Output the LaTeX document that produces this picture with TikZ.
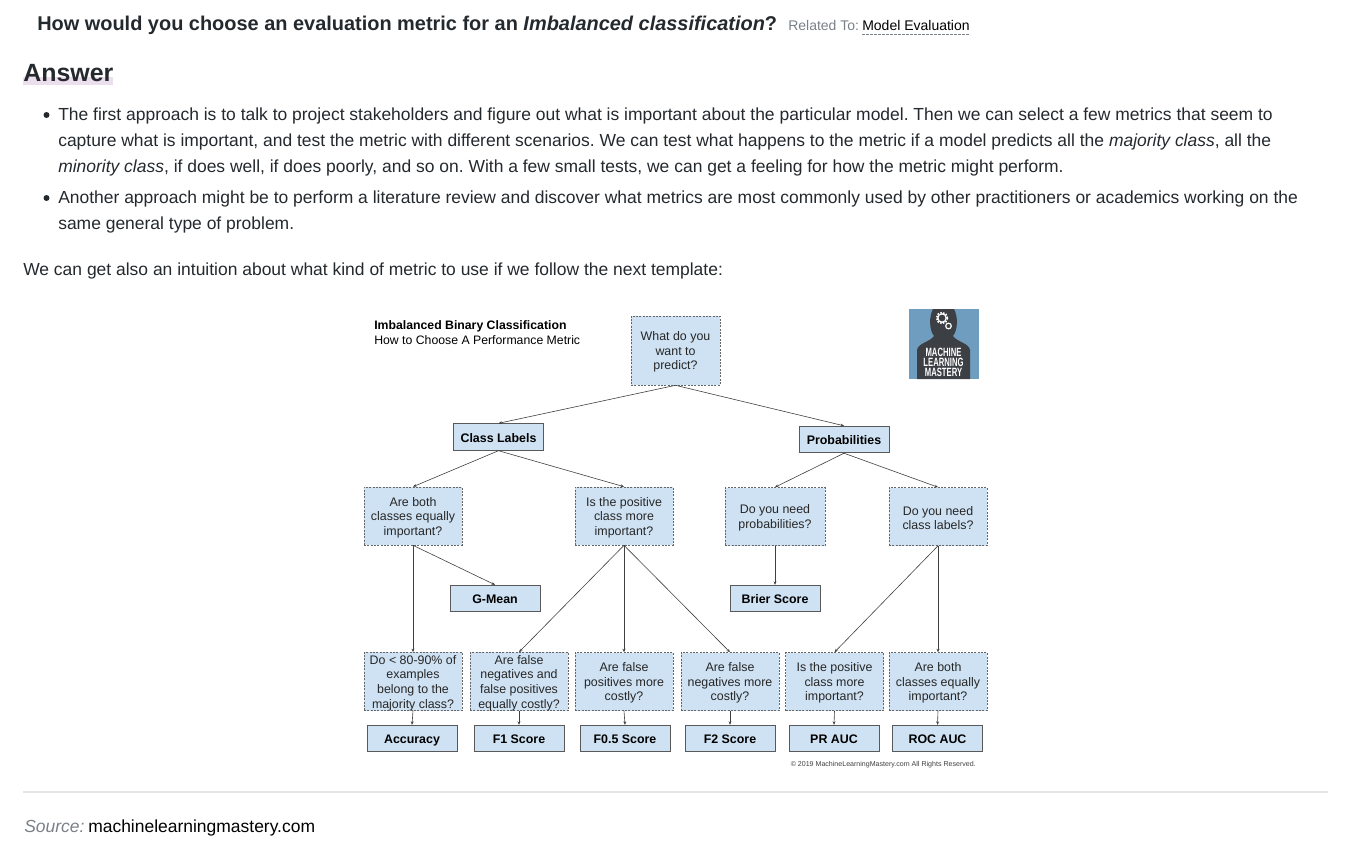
\documentclass[tikz,border=0pt]{standalone}
\usepackage{fontspec}
\setmainfont{Liberation Sans}
\usetikzlibrary{arrows.meta}
\definecolor{boxblue}{HTML}{CFE2F3}
\definecolor{inkdark}{HTML}{24292E}
\definecolor{graytext}{HTML}{7A8087}
\definecolor{markpink}{HTML}{EBDFEE}
\definecolor{logoblue}{HTML}{6F9DBF}
\definecolor{logodark}{HTML}{3C3F44}
\newcommand{\bodysize}{\frenchspacing\fontsize{13.1pt}{15pt}\selectfont}
\newcommand{\qfirst}{\rule{0pt}{9pt}}
\tikzset{
	every node/.style = {inner sep=0pt, text=inkdark},
	bodyline/.style = {anchor=base west, font=\bodysize},
	bulletdot/.style = {circle, fill=inkdark, minimum size=4.5pt},
	qbox/.style = {draw=black!60, dashed, dash pattern=on 1.5pt off 1pt, line width=.45pt, fill=boxblue, minimum width=73.5pt, minimum height=43.5pt, align=center, text=black!85, font=\fontsize{9.3pt}{10.9pt}\selectfont},
	resultbox/.style = {draw=black!65, line width=.55pt, fill=boxblue, minimum width=67.5pt, minimum height=20pt, text height=9.5pt, text depth=2pt, text=black, font=\fontsize{9.3pt}{11pt}\selectfont\bfseries},
	link/.style = {draw=black!75, line width=.45pt, -{Stealth[length=2.6pt,width=2.2pt]}},
	logotext/.style = {text=white, xscale=.64, transform shape, font=\fontsize{9pt}{9pt}\selectfont\bfseries}
}

\begin{document}
\begin{tikzpicture}[x=.75pt,y=-.75pt]
	\useasboundingbox (0,0) rectangle (1350,854);

	% heading
	\node[anchor=base west, font=\fontsize{14.95pt}{18pt}\selectfont\bfseries] (question) at (37,30) {How would you choose an evaluation metric for an \textit{Imbalanced classification}?};
	\node[anchor=base west, text=graytext, font=\fontsize{10.5pt}{12pt}\selectfont] (related) at (788,30) {Related To:};
	\node[anchor=base west, text=black, font=\fontsize{10.5pt}{12pt}\selectfont] (topic) at (862,30) {Model Evaluation};
	\coordinate (topicl) at (862,34);
	\coordinate (topicr) at (970,34);
	\draw[graytext, line width=.6pt, dash pattern=on 2pt off 1pt] (topicl) -- (topicr);

	\fill[markpink] (23,77) rectangle (113,85);
	\node[anchor=base west, font=\fontsize{18.7pt}{22pt}\selectfont\bfseries] (answer) at (23,81) {Answer};

	% text
	\node[bulletdot] (dota) at (46.5,115) {};
	\node[bodyline] (linea) at (58,120) {The first approach is to talk to project stakeholders and figure out what is important about the particular model. Then we can select a few metrics that seem to};
	\node[bodyline] (lineb) at (58,146) {capture what is important, and test the metric with different scenarios. We can test what happens to the metric if a model predicts all the \textit{majority class}, all the};
	\node[bodyline] (linec) at (58,172) {\textit{minority class}, if does well, if does poorly, and so on. With a few small tests, we can get a feeling for how the metric might perform.};
	\node[bulletdot] (dotb) at (46.5,198) {};
	\node[bodyline] (lined) at (58,203) {Another approach might be to perform a literature review and discover what metrics are most commonly used by other practitioners or academics working on the};
	\node[bodyline] (linee) at (58,229) {same general type of problem.};
	\node[bodyline] (linef) at (23,275) {We can get also an intuition about what kind of metric to use if we follow the next template:};

	% chart title
	\node[anchor=base west, text=black, font=\fontsize{9.2pt}{10pt}\selectfont\bfseries] (charttitle) at (374,329) {Imbalanced Binary Classification};
	\node[anchor=base west, text=black, font=\fontsize{9.2pt}{10pt}\selectfont] (chartsub) at (374,344) {How to Choose A Performance Metric};

	% logo
	\fill[logoblue] (909,309) rectangle (979,379);
	\fill[logodark] (917,379) -- (917,350) .. controls (918,343) and (930,342) .. (934,336) .. controls (929,330) and (929,316) .. (933,309) -- (954,309) .. controls (958,316) and (958,330) .. (953,336) .. controls (957,342) and (969,343) .. (970,350) -- (970,379) -- cycle;
	\draw[white, line width=1.2pt, densely dotted] (942,318) circle (5.5);
	\draw[white, line width=.9pt] (942,318) circle (4.2);
	\draw[white, line width=.9pt] (948.5,326) circle (2.8);
	\node[logotext] (logoa) at (943.5,352) {MACHINE};
	\node[logotext] (logob) at (943.5,362) {LEARNING};
	\node[logotext] (logoc) at (943.5,372.5) {MASTERY};

	% tree
	\node[qbox, minimum width=66.75pt, minimum height=51.75pt] (predict) at (675.5,350.5) {\qfirst What do you\\want to\\predict?};

	\node[resultbox] (labels) at (498.5,437) {Class Labels};
	\node[resultbox] (probs) at (844,439.5) {Probabilities};

	\node[qbox] (qbalanced) at (413,516) {\qfirst Are both\\classes equally\\important?};
	\node[qbox] (qpositive) at (624,516) {\qfirst Is the positive\\class more\\important?};
	\node[qbox, minimum width=75pt] (qprobs) at (775,516.5) {\qfirst Do you need\\probabilities?};
	\node[qbox] (qlabels) at (938,516.5) {\qfirst Do you need\\class labels?};

	\node[resultbox] (gmean) at (495,598.5) {G-Mean};
	\node[resultbox] (brier) at (775,598.5) {Brier Score};

	\node[qbox] (qmajority) at (413,681.5) {\qfirst Do < 80-90\% of\\examples\\belong to the\\majority class?};
	\node[qbox] (qequal) at (519,681.5) {\qfirst Are false\\negatives and\\false positives\\equally costly?};
	\node[qbox] (qfp) at (624,681.5) {\qfirst Are false\\positives more\\costly?};
	\node[qbox] (qfn) at (730,681.5) {\qfirst Are false\\negatives more\\costly?};
	\node[qbox] (qpr) at (834.5,681.5) {\qfirst Is the positive\\class more\\important?};
	\node[qbox] (qroc) at (938,681.5) {\qfirst Are both\\classes equally\\important?};

	\node[resultbox] (accuracy) at (412,738.5) {Accuracy};
	\node[resultbox] (fone) at (519,738.5) {F1 Score};
	\node[resultbox] (fhalf) at (625,738.5) {F0.5 Score};
	\node[resultbox] (ftwo) at (730,738.5) {F2 Score};
	\node[resultbox] (prauc) at (834,738.5) {PR AUC};
	\node[resultbox] (rocauc) at (937.5,738.5) {ROC AUC};

	\node[anchor=base east, text=black!75, font=\fontsize{5.3pt}{6pt}\selectfont] (rights) at (976,766) {© 2019 MachineLearningMastery.com All Rights Reserved.};

	\draw[link] (predict.south) -- (labels.north);
	\draw[link] (predict.south) -- (probs.north);
	\draw[link] (labels.south) -- (qbalanced.north);
	\draw[link] (labels.south) -- (qpositive.north);
	\draw[link] (probs.south) -- (qprobs.north);
	\draw[link] (probs.south) -- (qlabels.north);
	\draw[link] (qbalanced.south) -- (gmean.north);
	\draw[link] (qbalanced.south) -- (qmajority.north);
	\draw[link] (qpositive.south) -- (qequal.north);
	\draw[link] (qpositive.south) -- (qfp.north);
	\draw[link] (qpositive.south) -- (qfn.north);
	\draw[link] (qprobs.south) -- (brier.north);
	\draw[link] (qlabels.south) -- (qpr.north);
	\draw[link] (qlabels.south) -- (qroc.north);
	\draw[link] (qmajority.south) -- (accuracy.north);
	\draw[link] (qequal.south) -- (fone.north);
	\draw[link] (qfp.south) -- (fhalf.north);
	\draw[link] (qfn.south) -- (ftwo.north);
	\draw[link] (qpr.south) -- (prauc.north);
	\draw[link] (qroc.south) -- (rocauc.north);

	% source
	\coordinate (rulel) at (23,792);
	\coordinate (ruler) at (1328,792);
	\draw[black!10, line width=.9pt] (rulel) -- (ruler);
	\node[bodyline, text=graytext] (source) at (24,832) {\textit{Source:}};
	\node[bodyline, text=black] (site) at (88,832) {machinelearningmastery.com};
\end{tikzpicture}
\end{document}
